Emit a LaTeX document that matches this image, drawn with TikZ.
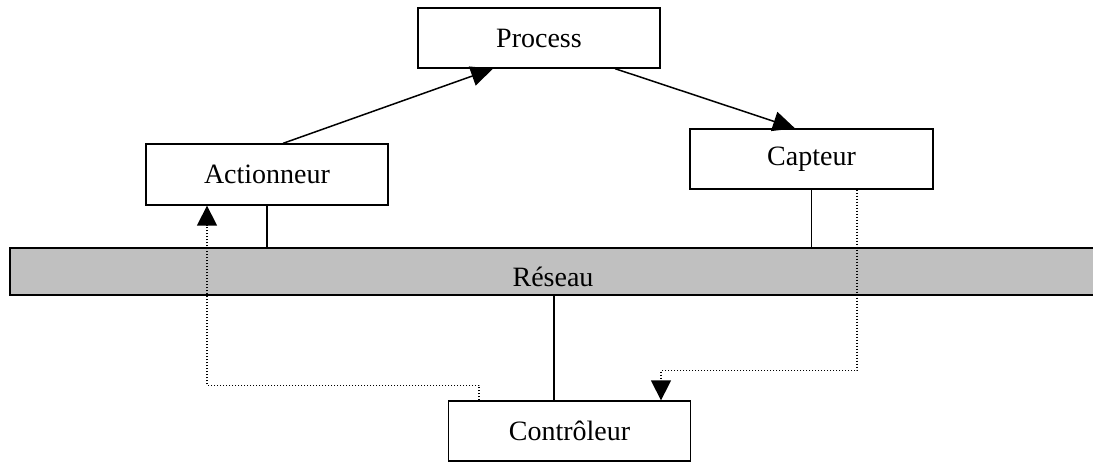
\documentclass[tikz,border=0pt]{standalone}
\usepackage{fontspec}
\setmainfont{Liberation Serif}
\usetikzlibrary{arrows.meta,calc}
\definecolor{busgray}{RGB}{192,192,192}
\begin{document}
\begin{tikzpicture}[x=0.5pt,y=-0.5pt,
  lbl/.style={font=\fontsize{14}{16}\selectfont},
  box/.style={lbl,draw,line width=0.65pt,fill=white,minimum width=121pt,minimum height=30pt,inner sep=0pt},
  bus/.style={lbl,draw,line width=0.75pt,fill=busgray,minimum height=23.5pt,inner sep=0pt,text height=15pt,text depth=0pt},
  arr/.style={line width=0.75pt,-{Triangle[length=11pt,width=10pt]}},
  link/.style={line width=0.75pt},
  dotline/.style={line width=0.7pt,dash pattern=on 0.7pt off 0.8pt},
  dotarr/.style={dotline,-{Triangle[length=10pt,width=10pt]}}]
\clip (0,0) rectangle (1093,461);
\node[bus,minimum width=543pt] (res) at (553,271.5) {Réseau};
\node[box] (proc) at (539,38) {Process};
\node[box,minimum height=30.5pt] (act) at (267,174.5) {Actionneur};
\node[box,minimum width=121.5pt] (cap) at (811.5,159) {Capteur};
\node[box] (ctrl) at (569.5,431) {Contrôleur};
% arrows
\draw[arr] ([xshift=8pt]act.north) -- ([xshift=-23pt]proc.south);
\draw[arr] ([xshift=38pt]proc.south) -- ([xshift=-8.25pt]cap.north);
% bus links
\draw[link] (act.south) -- (act.south |- res.north);
\draw[link] (cap.south) -- (cap.south |- res.north);
\draw[link] ([xshift=-7.75pt]ctrl.north) -- ([xshift=-7.75pt]ctrl.north |- res.south);
% dotted feedback paths
\draw[dotarr] ([xshift=-45.25pt]ctrl.north) -- ++(0,-15) -| ([xshift=-30pt]act.south);
\draw[dotarr] ([xshift=22.75pt]cap.south) -- ++(0,181) -| ([xshift=45.75pt]ctrl.north);
\end{tikzpicture}
\end{document}
